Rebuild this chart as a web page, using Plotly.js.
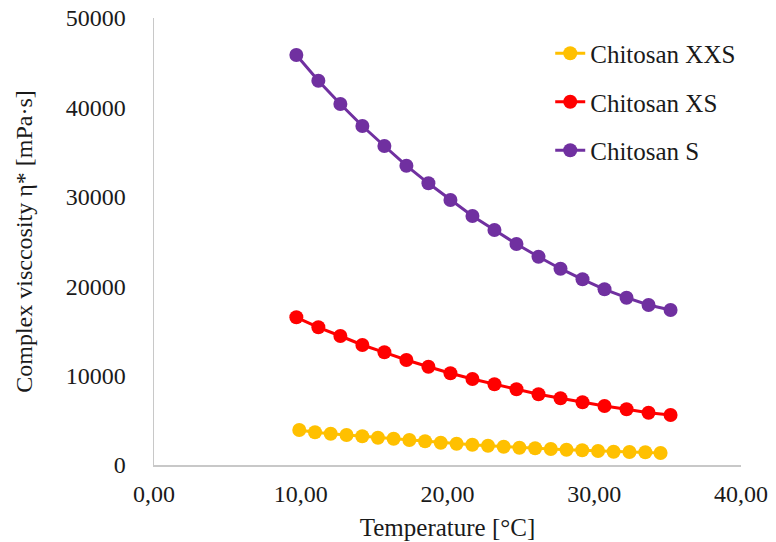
<!DOCTYPE html>
<html>
<head>
<meta charset="utf-8">
<script src="https://cdn.plot.ly/plotly-3.0.1.min.js"></script>
<style>html,body{margin:0;padding:0;background:#fff;}#chart{width:776px;height:542px;}</style>
</head>
<body>
<div id="chart"></div>
<script>
// Temperature [°C]
const tempXXS = [9.90, 10.97, 12.04, 13.12, 14.19, 15.26, 16.33, 17.40, 18.47, 19.54, 20.62, 21.69, 22.76, 23.83, 24.90, 25.97, 27.04, 28.11, 29.18, 30.26, 31.32, 32.40, 33.48, 34.52];
const tempXS  = [9.7, 11.2, 12.7, 14.2, 15.7, 17.2, 18.7, 20.2, 21.7, 23.2, 24.7, 26.2, 27.7, 29.2, 30.7, 32.2, 33.7, 35.2];
const tempS   = [9.7, 11.2, 12.7, 14.2, 15.7, 17.2, 18.7, 20.2, 21.7, 23.2, 24.7, 26.2, 27.7, 29.2, 30.7, 32.2, 33.7, 35.2];

// Complex viscosity [mPa·s]
const viscXXS = [3915, 3658, 3501, 3356, 3210, 3054, 2942, 2796, 2651, 2494, 2383, 2271, 2159, 2047, 1935, 1868, 1790, 1711, 1644, 1566, 1488, 1454, 1421, 1342];
const viscXS  = [16521, 15403, 14430, 13423, 12606, 11745, 10996, 10257, 9620, 9027, 8468, 7908, 7461, 7013, 6600, 6230, 5850, 5593];
const viscS   = [45861, 42987, 40380, 37919, 35682, 33479, 31510, 29642, 27852, 26286, 24720, 23300, 21957, 20772, 19653, 18714, 17897, 17338];

const seriesNames = ["Chitosan XXS", "Chitosan XS", "Chitosan S"];
const xTickVals = [0, 10, 20, 30, 40];
const yTickVals = [0, 10000, 20000, 30000, 40000, 50000];

const colors = ["#FFC000", "#FF0000", "#7030A0"];
const xs = [tempXXS, tempXS, tempS];
const ys = [viscXXS, viscXS, viscS];

const traces = seriesNames.map((n, i) => ({
  type: "scatter",
  mode: "lines+markers",
  name: n,
  legendgroup: "g" + i,
  x: xs[i],
  y: ys[i],
  line: {color: colors[i], width: 3},
  marker: {color: colors[i], size: 14}
}));

const fontFam = "Liberation Serif";
const txtColor = "#1a1a1a";

const layout = {
  width: 776,
  height: 542,
  margin: {l: 154, r: 35, t: 18, b: 77},
  paper_bgcolor: "#ffffff",
  plot_bgcolor: "#ffffff",
  separators: ",.",
  font: {family: fontFam, size: 24, color: txtColor},
  showlegend: true,
  legend: {
    x: 0.675, y: 0.972, xanchor: "left", yanchor: "top",
    font: {family: fontFam, size: 25, color: txtColor},
    traceorder: "grouped",
    tracegroupgap: 13,
    bgcolor: "rgba(0,0,0,0)"
  },
  xaxis: {
    range: [0, 40],
    tickvals: xTickVals,
    tickformat: ".2f",
    showgrid: false,
    zeroline: false,
    showline: true,
    linecolor: "#C8C8C8",
    linewidth: 1.5,
    ticks: "",
    ticklabelstandoff: 7,
    tickfont: {family: fontFam, size: 24, color: txtColor},
    title: {text: "Temperature [°C]", font: {family: fontFam, size: 25, color: txtColor}, standoff: 12}
  },
  yaxis: {
    range: [0, 50000],
    tickvals: yTickVals,
    tickformat: "d",
    showgrid: false,
    zeroline: false,
    showline: true,
    linecolor: "#C8C8C8",
    linewidth: 1.5,
    ticks: "",
    ticklabelstandoff: 22,
    tickfont: {family: fontFam, size: 24, color: txtColor},
    title: {text: "Complex visccosity η* [mPa·s]", font: {family: fontFam, size: 24, color: txtColor}, standoff: 26}
  }
};

Plotly.newPlot("chart", traces, layout, {displayModeBar: false, staticPlot: true});
</script>
</body>
</html>
